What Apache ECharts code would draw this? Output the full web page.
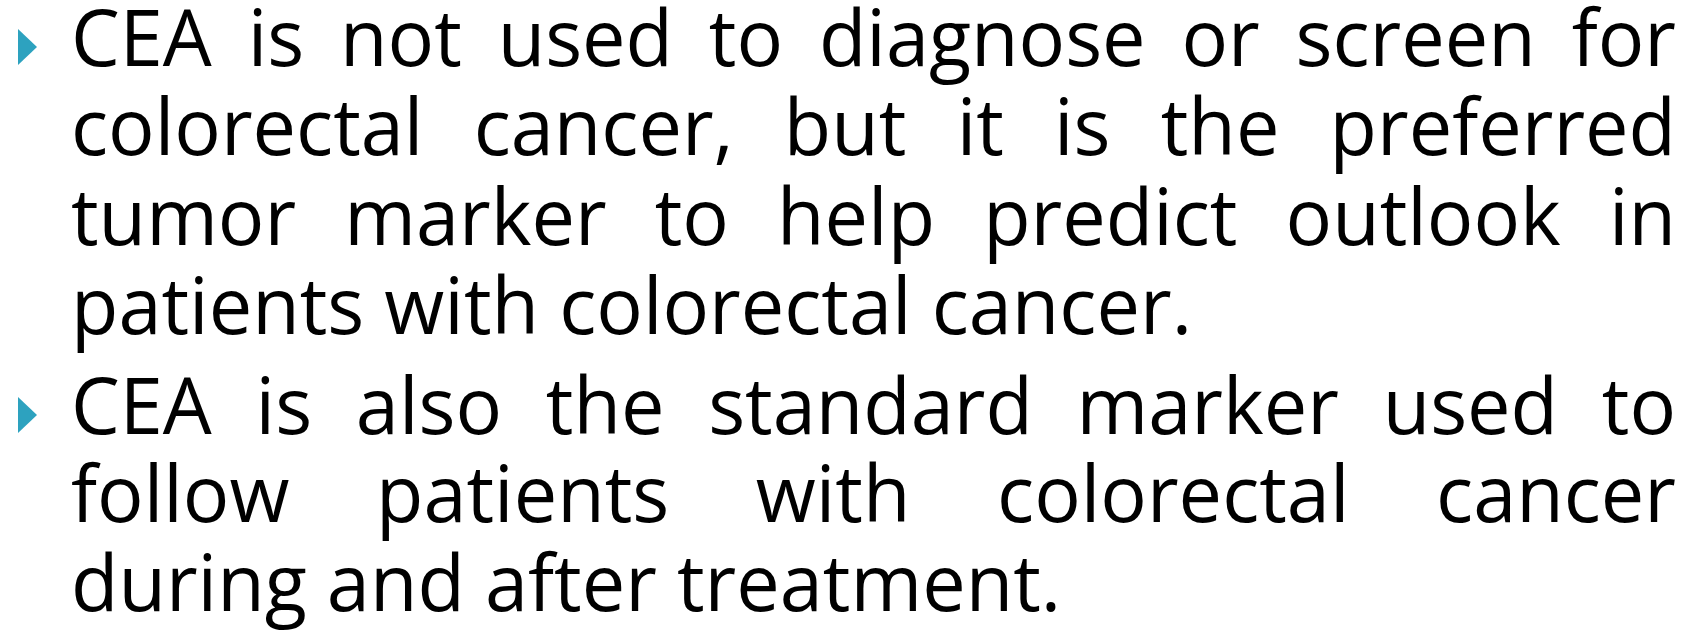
<!DOCTYPE html>
<html>
<head>
<meta charset="utf-8">
<script src="https://cdn.jsdelivr.net/npm/echarts@6.0.0/dist/echarts.min.js"></script>
<style>
  html, body { margin: 0; padding: 0; background: #ffffff; }
  #container { width: 1702px; height: 630px; }
</style>
</head>
<body>
<div id="container"></div>
<script>
//初始化echarts
var dom = document.getElementById('container');
var myChart = echarts.init(dom, null, { renderer: 'canvas' });

//文本数据 (每个段落的行)
var para1Lines = [
  'CEA is not used to diagnose or screen for',
  'colorectal cancer, but it is the preferred',
  'tumor marker to help predict outlook in',
  'patients with colorectal cancer.'
];
var para2Lines = [
  'CEA is also the standard marker used to',
  'follow patients with colorectal cancer',
  'during and after treatment.'
];
var paragraphs = [para1Lines, para2Lines];

//版式
var lineBaselines = [66, 155, 245, 334, 434, 522, 611];
var textLeft = 71;
var textRight = 1676;
var fontSize = 78;
var fontFamily = '"Open Sans", "Noto Sans", sans-serif';
var bulletColor = '#2DA2BF';
var refNaturalWidth = 1121; // "patients with colorectal cancer." in the reference

//测量文字宽度
var ctx = document.createElement('canvas').getContext('2d');
ctx.font = fontSize + 'px ' + fontFamily;
function measure(s) { return ctx.measureText(s).width; }

var sx = refNaturalWidth / measure(para1Lines[3]);
var spaceW = measure(' ') * sx;

var elements = [];
var lineIdx = 0;
paragraphs.forEach(function (lines) {
  lines.forEach(function (line, i) {
    var base = lineBaselines[lineIdx++];
    var words = line.split(' ');
    var widths = words.map(function (w) { return measure(w) * sx; });
    var total = widths.reduce(function (a, b) { return a + b; }, 0);
    var isLast = i === lines.length - 1;
    var gap = isLast ? spaceW : (textRight - textLeft - total) / (words.length - 1);

    if (i === 0) {
      elements.push({
        type: 'polygon',
        shape: { points: [[18, base - 37], [37, base - 19], [18, base - 1]] },
        style: { fill: bulletColor }
      });
    }

    var x = textLeft;
    words.forEach(function (w, k) {
      elements.push({
        type: 'text',
        x: x,
        y: base - fontSize * 0.285,
        scaleX: sx,
        originX: 0,
        style: {
          text: w,
          x: 0,
          y: 0,
          fill: '#000000',
          font: fontSize + 'px ' + fontFamily,
          align: 'left',
          verticalAlign: 'middle'
        }
      });
      x += widths[k] + gap;
    });
  });
});

var option = {
  backgroundColor: '#ffffff',
  animation: false,
  graphic: { elements: elements }
};

myChart.setOption(option);
window.addEventListener('resize', myChart.resize);
</script>
</body>
</html>
